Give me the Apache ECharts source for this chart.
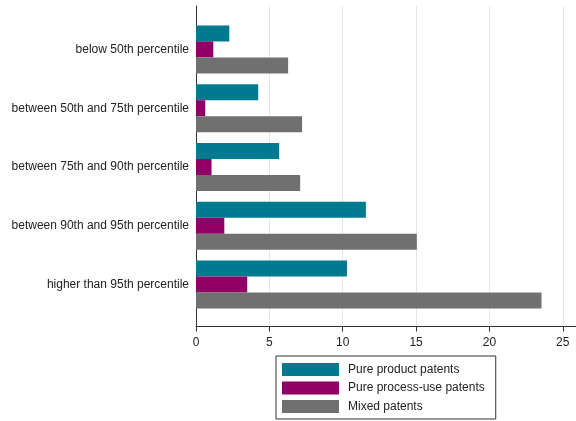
<!DOCTYPE html>
<html>
<head>
<meta charset="utf-8">
<script src="https://cdn.jsdelivr.net/npm/echarts@6/dist/echarts.min.js"></script>
<style>
  html, body { margin: 0; padding: 0; background: #fff; }
  #chart { width: 576px; height: 421px; }
</style>
</head>
<body>
<div id="chart"></div>
<script>
// data
const categories = [
  'below 50th percentile',
  'between 50th and 75th percentile',
  'between 75th and 90th percentile',
  'between 90th and 95th percentile',
  'higher than 95th percentile'
];
const pureProduct = [2.27, 4.24, 5.67, 11.58, 10.29];
const pureProcess = [1.18, 0.63, 1.06, 1.93, 3.49];
const mixed = [6.28, 7.23, 7.10, 15.05, 23.55];
const seriesNames = ['Pure product patents', 'Pure process-use patents', 'Mixed patents'];
const xTicks = [0, 5, 10, 15, 20, 25];

const colors = ['#007A8F', '#900066', '#707070'];
const font = '"Liberation Sans", Arial, sans-serif';

const chart = echarts.init(document.getElementById('chart'));

function barSeries(name, data, i) {
  return {
    name: name,
    type: 'bar',
    xAxisIndex: 0,
    yAxisIndex: 0,
    data: data,
    barWidth: 16,
    barGap: '0%',
    itemStyle: { color: colors[i] },
    z: 3
  };
}

chart.setOption({
  animation: false,
  textStyle: { fontFamily: font },
  grid: [
    // bars
    { left: 196, right: 0, top: 20, bottom: 107 },
    // frame with axis lines, ticks, gridlines
    { left: 196, right: 0, top: 6, bottom: 94.5 }
  ],
  legend: {
    orient: 'vertical',
    left: 276,
    top: 356,
    padding: [7, 11, 6, 6],
    borderColor: '#333',
    borderWidth: 1,
    itemWidth: 57,
    itemHeight: 13,
    itemGap: 5.5,
    icon: 'rect',
    textStyle: { fontSize: 12, color: '#222', fontFamily: font, padding: [0, 0, 0, 4] },
    data: seriesNames
  },
  xAxis: [
    { gridIndex: 0, type: 'value', min: 0, max: 25.9, show: false },
    {
      gridIndex: 1, type: 'value', min: 0, max: 25.9, interval: 5,
      axisLine: { show: true, lineStyle: { color: '#333', width: 1 } },
      axisTick: { show: true, length: 5, lineStyle: { color: '#333' } },
      axisLabel: {
        fontSize: 12, color: '#222', margin: 10, showMaxLabel: false,
        formatter: function (v) { return xTicks.indexOf(v) >= 0 ? String(v) : ''; }
      },
      splitLine: { show: true, lineStyle: { color: '#e6e6e6', width: 1 } }
    }
  ],
  yAxis: [
    {
      gridIndex: 0, type: 'category', data: categories, inverse: true,
      axisLine: { show: false },
      axisTick: { show: false },
      axisLabel: { fontSize: 12, color: '#222', margin: 7 }
    },
    {
      gridIndex: 1, type: 'value', min: 0, max: 1,
      axisLine: { show: true, lineStyle: { color: '#333', width: 1 } },
      axisTick: { show: false },
      axisLabel: { show: false },
      splitLine: { show: false }
    }
  ],
  series: [
    barSeries(seriesNames[0], pureProduct, 0),
    barSeries(seriesNames[1], pureProcess, 1),
    barSeries(seriesNames[2], mixed, 2)
  ]
});
</script>
</body>
</html>
